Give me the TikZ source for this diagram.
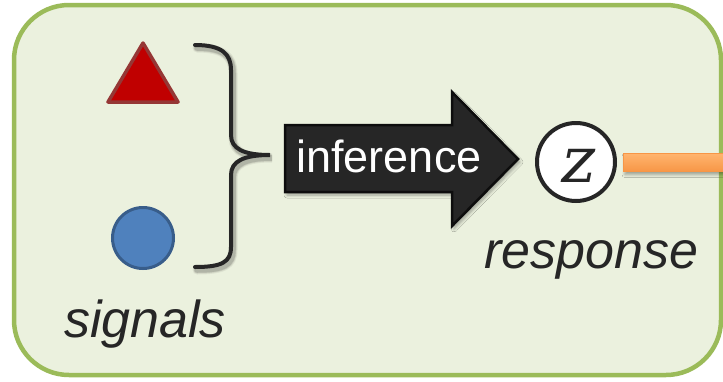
\documentclass[tikz,border=0pt]{standalone}
\usepackage{fontspec}
\setmainfont{Liberation Sans}
\newfontfamily\varfont[FakeSlant=0.2]{DejaVu Serif}
\usetikzlibrary{shadows.blur}
\definecolor{panelfill}{HTML}{EBF1DE}
\definecolor{panelline}{HTML}{9BBB59}
\definecolor{ink}{HTML}{262626}
\definecolor{trifill}{HTML}{C00000}
\definecolor{triline}{HTML}{953735}
\definecolor{dotfill}{HTML}{4F81BD}
\definecolor{dotline}{HTML}{385D8A}
\definecolor{orangedark}{HTML}{F79646}
\definecolor{orangelight}{HTML}{FFB46E}
\tikzset{
  softshadow/.style={blur shadow={shadow xshift=2pt, shadow yshift=-3pt,
      shadow blur steps=6, shadow opacity=35, shadow blur radius=3pt}},
  label text/.style={text=ink, font=\fontsize{52}{52}\selectfont\itshape, inner sep=0pt, anchor=base},
}
% right brace grouping the two signals
\def\bracepath{(195,45) .. controls (222,45) and (231,54) .. (231,70) -- (231,135)
    .. controls (231,149) and (244,155) .. (270,155)
    .. controls (244,155) and (231,161) .. (231,175) -- (231,247)
    .. controls (231,262) and (222,267) .. (195,267)}
\begin{document}
\begin{tikzpicture}[x=1pt, y=-1pt]
  \useasboundingbox (0,0) rectangle (723,381);

  % panel
  \draw[panelline, line width=4.5pt, fill=panelfill, rounded corners=55pt]
    (14,5) rectangle (721,375);

  % signals
  \draw[triline, fill=trifill, line width=3.5pt, line join=round]
    (143,43) -- (178,102) -- (108,102) -- cycle;
  \node[circle, draw=dotline, fill=dotfill, line width=3pt, minimum size=61pt, inner sep=0pt] (dot) at (143,238) {};
  \node[label text] (signals) at (145,337) {signals};

  % brace with a soft shadow under it
  \foreach \w/\o in {9/0.06, 7/0.09, 5.5/0.12} {
    \draw[black, opacity=\o, line width=\w pt, line cap=round, shift={(2,3)}] \bracepath;
  }
  \draw[ink, line width=4pt, line cap=round] \bracepath;

  % inference arrow
  \draw[black!95, fill=ink, line width=2.5pt, line join=miter, softshadow]
    (285,125) -- (452,125) -- (452,92) -- (518,159) -- (452,226) -- (452,192) -- (285,192) -- cycle;
  \node[text=white, font=\fontsize{45}{45}\selectfont, inner sep=0pt, anchor=base] (inf) at (389,172) {inference};

  % response variable
  \node[circle, draw=ink, fill=white, line width=4pt, minimum size=78pt, inner sep=0pt] (z) at (576,162) {};
  \node[text=ink, font=\varfont\fontsize{64}{64}\selectfont, inner sep=0pt, anchor=base] (zvar) at (575,182) {z};
  \node[label text] (response) at (591,268) {response};

  % outgoing link
  \coordinate (zout) at (623,162.5);
  \coordinate (edge) at (735,162.5);
  \shade[top color=orangelight, bottom color=orangedark, draw=orangedark, line width=1pt, softshadow]
    ([yshift=9pt]zout) rectangle ([yshift=-9pt]edge);
\end{tikzpicture}
\end{document}
